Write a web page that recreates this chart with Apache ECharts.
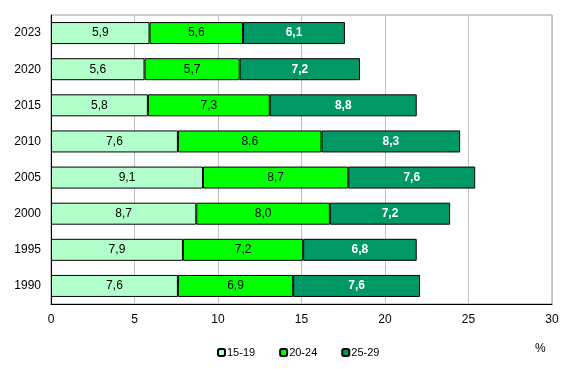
<!DOCTYPE html>
<html><head><meta charset="utf-8">
<script src="https://cdn.jsdelivr.net/npm/echarts@6/dist/echarts.min.js"></script>
<style>html,body{margin:0;padding:0;background:#fff}#c{width:575px;height:369px}</style>
</head><body><div id="c"></div>
<script>
const years = ['1990','1995','2000','2005','2010','2015','2020','2023'];
const age15_19 = [7.6, 7.9, 8.7, 9.1, 7.6, 5.8, 5.6, 5.9];
const age20_24 = [6.9, 7.2, 8.0, 8.7, 8.6, 7.3, 5.7, 5.6];
const age25_29 = [7.6, 6.8, 7.2, 7.6, 8.3, 8.8, 7.2, 6.1];
const seriesNames = ['15-19','20-24','25-29'];
const xTicks = [0,5,10,15,20,25,30];

const font = 'Liberation Sans, Arial, sans-serif';
const fmt = p => p.value.toFixed(1).replace('.', ',');
const colors = ['#b3ffcc', '#00ff00', '#009966'];
const labelColors = ['#000', '#000', '#fff'];
const chart = echarts.init(document.getElementById('c'));
const mk = (name, data, i) => ({
  name, type: 'bar', stack: 'a', data, barWidth: 22,
  itemStyle: { color: colors[i], borderColor: '#000', borderWidth: 1 },
  label: { show: true, position: 'inside', formatter: fmt, color: labelColors[i],
    fontFamily: font, fontSize: 12, fontWeight: i === 2 ? 'bold' : 'normal' },
  emphasis: { disabled: true }, animation: false
});
chart.setOption({
  animation: false,
  grid: { left: 51, right: 23, top: 15, bottom: 65, show: true, borderColor: '#999', borderWidth: 1 },
  xAxis: {
    type: 'value', min: xTicks[0], max: xTicks[xTicks.length-1], interval: 5,
    axisLine: { show: true, lineStyle: { color: '#000', width: 1 } },
    axisTick: { show: false },
    axisLabel: { color: '#000', fontFamily: font, fontSize: 12, margin: 10 },
    splitLine: { show: true, lineStyle: { color: '#c0c0c0', width: 1 } }
  },
  yAxis: {
    type: 'category', data: years,
    axisLine: { show: true, lineStyle: { color: '#000', width: 1 } },
    axisTick: { show: false },
    axisLabel: { color: '#000', fontFamily: font, fontSize: 12, margin: 10 }
  },
  legend: {
    left: 212, top: 342, itemWidth: 7, itemHeight: 7, itemGap: 24,
    textStyle: { color: '#000', fontFamily: font, fontSize: 11, padding: [0,0,0,-3] },
    data: seriesNames
  },
  graphic: [{ type: 'text', left: 535, top: 343, style: { text: '%', fill: '#000', font: '12px ' + font } }],
  series: [mk(seriesNames[0], age15_19, 0), mk(seriesNames[1], age20_24, 1), mk(seriesNames[2], age25_29, 2)]
});
</script></body></html>
